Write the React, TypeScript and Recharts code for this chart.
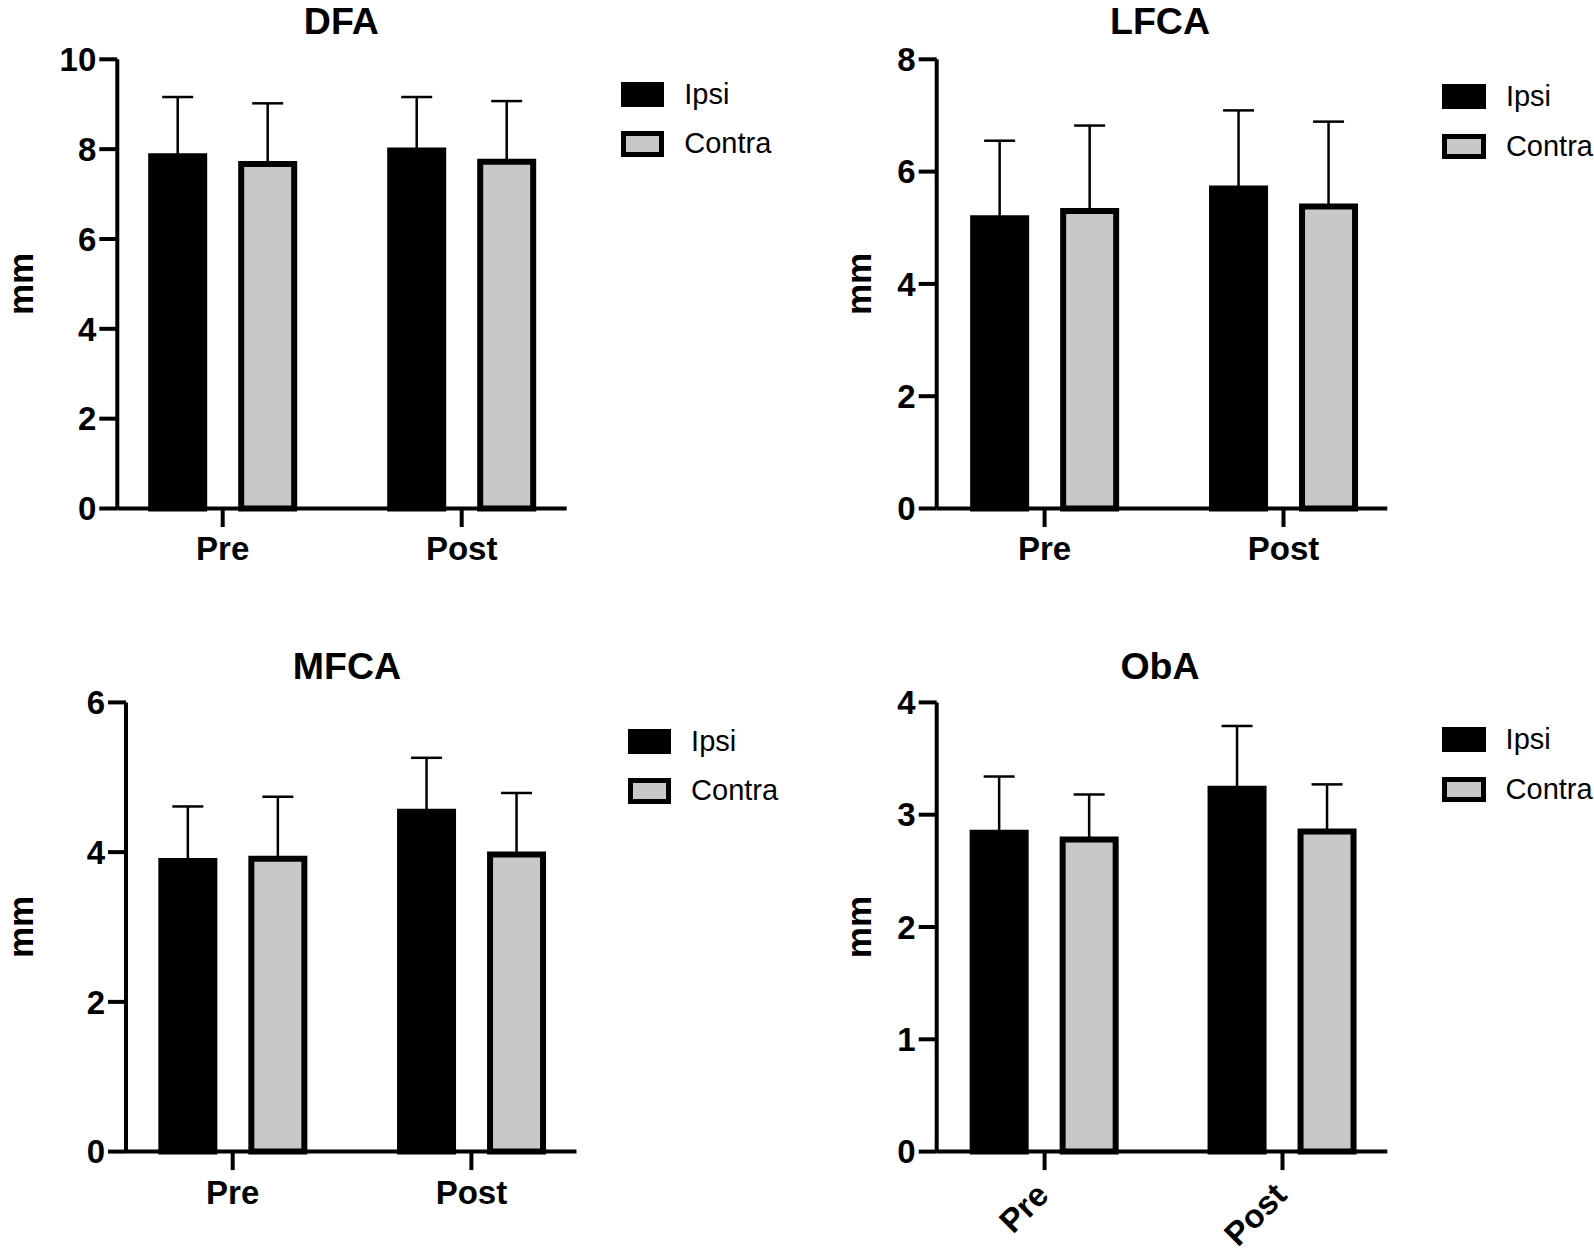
import React from "react";
import { BarChart, Bar, XAxis, YAxis, ErrorBar, Legend } from "recharts";

const FONT = '"Liberation Sans", Arial, Helvetica, sans-serif';

const CATEGORIES = ["Pre", "Post"];
const SERIES_NAMES = ["Ipsi", "Contra"];
const SERIES_FILLS = ["#000000", "#c8c8c8"];

// means and (upper) SD
const DFA_IPSI = [7.84, 7.97];
const DFA_IPSI_SD = [1.32, 1.19];
const DFA_CONTRA = [7.67, 7.72];
const DFA_CONTRA_SD = [1.35, 1.35];

const LFCA_IPSI = [5.17, 5.7];
const LFCA_IPSI_SD = [1.38, 1.39];
const LFCA_CONTRA = [5.3, 5.38];
const LFCA_CONTRA_SD = [1.52, 1.51];

const MFCA_IPSI = [3.88, 4.54];
const MFCA_IPSI_SD = [0.73, 0.72];
const MFCA_CONTRA = [3.91, 3.97];
const MFCA_CONTRA_SD = [0.83, 0.82];

const OBA_IPSI = [2.84, 3.23];
const OBA_IPSI_SD = [0.5, 0.56];
const OBA_CONTRA = [2.78, 2.85];
const OBA_CONTRA_SD = [0.4, 0.42];

const DFA_TICKS = [0, 2, 4, 6, 8, 10];
const LFCA_TICKS = [0, 2, 4, 6, 8];
const MFCA_TICKS = [0, 2, 4, 6];
const OBA_TICKS = [0, 1, 2, 3, 4];

const TITLE_SIZE = 37.5;

function buildRows(ipsi: number[], ipsiSd: number[], contra: number[], contraSd: number[]) {
  return CATEGORIES.map((name, i) => ({
    name,
    ipsi: ipsi[i],
    ipsiErr: [0, ipsiSd[i]],
    contra: contra[i],
    contraErr: [0, contraSd[i]],
  }));
}

function LegendBox() {
  return (
    <div style={{ fontFamily: FONT }}>
      {SERIES_NAMES.map((n, i) => (
        <div
          key={n}
          style={{
            display: "flex",
            alignItems: "center",
            height: 25.3,
            marginBottom: i === 0 ? 24.3 : 0,
            whiteSpace: "nowrap",
          }}
        >
          <div
            style={{
              width: 43.6,
              height: 25.3,
              boxSizing: "border-box",
              background: SERIES_FILLS[i],
              border: "5px solid #000",
            }}
          />
          <span style={{ marginLeft: 20, fontSize: 29, lineHeight: "25.3px", color: "#000" }}>{n}</span>
        </div>
      ))}
    </div>
  );
}

function RotatedTick(props: any) {
  const { x, y, payload } = props;
  return (
    <g transform={`translate(${x},${y})`}>
      <text
        x={6}
        y={17}
        textAnchor="end"
        transform="rotate(-45, 6, 17)"
        style={{ fontFamily: FONT, fontSize: 33, fontWeight: "bold", fill: "#000" }}
      >
        {payload.value}
      </text>
    </g>
  );
}

type PanelProps = {
  title: string;
  rows: any[];
  ticks: number[];
  box: [number, number, number, number];
  plot: { left: number; top: number; right: number; bottom: number; pre: number; post: number };
  titleAt: [number, number];
  legendAt: [number, number];
  labelBaseline: number;
  rotated?: boolean;
};

function Panel({ title, rows, ticks, box, plot, titleAt, legendAt, labelBaseline, rotated }: PanelProps) {
  const [bx, by, bw, bh] = box;
  const band = plot.post - plot.pre;
  const padLeft = plot.pre - plot.left - band / 2;
  const padRight = plot.right - plot.post - band / 2;
  const xAxisH = 100;
  const margin = {
    top: plot.top - by,
    right: bx + bw - plot.right,
    bottom: by + bh - plot.bottom - xAxisH,
    left: 0,
  };
  const tickStyle = { fontFamily: FONT, fontSize: 33, fontWeight: "bold", fill: "#000" };

  return (
    <div style={{ position: "absolute", left: bx, top: by, width: bw, height: bh }}>
      <div
        style={{
          position: "absolute",
          left: titleAt[0] - bx - 200,
          width: 400,
          top: titleAt[1] - by - 0.847 * TITLE_SIZE,
          textAlign: "center",
          fontFamily: FONT,
          fontSize: TITLE_SIZE,
          fontWeight: "bold",
          lineHeight: `${TITLE_SIZE}px`,
          color: "#000",
        }}
      >
        {title}
      </div>
      <BarChart width={bw} height={bh} data={rows} margin={margin} barSize={53} barGap={37}>
        <XAxis
          dataKey="name"
          height={xAxisH}
          padding={{ left: padLeft, right: padRight }}
          axisLine={{ stroke: "#000", strokeWidth: 4 }}
          tickLine={{ stroke: "#000", strokeWidth: 4 }}
          tickSize={18.5}
          tickMargin={10}
          interval={0}
          tick={rotated ? <RotatedTick /> : tickStyle}
        />
        <YAxis
          width={plot.left - bx}
          domain={[0, ticks[ticks.length - 1]]}
          ticks={ticks}
          interval={0}
          axisLine={{ stroke: "#000", strokeWidth: 4 }}
          tickLine={{ stroke: "#000", strokeWidth: 4 }}
          tickSize={18}
          tickMargin={3}
          tick={tickStyle}
          label={{
            value: "mm",
            angle: -90,
            position: "insideLeft",
            offset: labelBaseline - bx - 12.4,
            style: { textAnchor: "middle", fontFamily: FONT, fontSize: 35, fontWeight: "bold", fill: "#000" },
          }}
        />
        <Bar dataKey="ipsi" name="Ipsi" fill={SERIES_FILLS[0]} stroke="#000" strokeWidth={6} isAnimationActive={false}>
          <ErrorBar dataKey="ipsiErr" width={15.5} strokeWidth={2.5} stroke="#000" direction="y" isAnimationActive={false} />
        </Bar>
        <Bar dataKey="contra" name="Contra" fill={SERIES_FILLS[1]} stroke="#000" strokeWidth={6} isAnimationActive={false}>
          <ErrorBar dataKey="contraErr" width={15.5} strokeWidth={2.5} stroke="#000" direction="y" isAnimationActive={false} />
        </Bar>
        <Legend
          layout="vertical"
          align="center"
          verticalAlign="middle"
          content={() => <LegendBox />}
          wrapperStyle={{ left: legendAt[0] - bx, top: legendAt[1] - by, width: "auto", height: "auto", bottom: "auto", right: "auto" }}
        />
      </BarChart>
    </div>
  );
}

export default function App() {
  return (
    <div
      style={{
        position: "absolute",
        left: 0,
        top: 0,
        width: 1594,
        height: 1257,
        overflow: "hidden",
        background: "#fff",
        fontFamily: FONT,
      }}
    >
      <Panel
        title="DFA"
        rows={buildRows(DFA_IPSI, DFA_IPSI_SD, DFA_CONTRA, DFA_CONTRA_SD)}
        ticks={DFA_TICKS}
        box={[0, 0, 797, 628]}
        plot={{ left: 117.3, top: 59.3, right: 566.7, bottom: 508.5, pre: 222.7, post: 461.7 }}
        titleAt={[341.3, 34.5]}
        legendAt={[620.7, 81.7]}
        labelBaseline={33.3}
      />
      <Panel
        title="LFCA"
        rows={buildRows(LFCA_IPSI, LFCA_IPSI_SD, LFCA_CONTRA, LFCA_CONTRA_SD)}
        ticks={LFCA_TICKS}
        box={[797, 0, 797, 628]}
        plot={{ left: 936.7, top: 59.3, right: 1387.3, bottom: 508.5, pre: 1044.6, post: 1283.5 }}
        titleAt={[1160, 34.5]}
        legendAt={[1442.3, 84]}
        labelBaseline={871}
      />
      <Panel
        title="MFCA"
        rows={buildRows(MFCA_IPSI, MFCA_IPSI_SD, MFCA_CONTRA, MFCA_CONTRA_SD)}
        ticks={MFCA_TICKS}
        box={[0, 628, 797, 629]}
        plot={{ left: 126, top: 702.4, right: 576.5, bottom: 1151.6, pre: 232.7, post: 471.4 }}
        titleAt={[347, 680]}
        legendAt={[627.5, 728.8]}
        labelBaseline={33}
      />
      <Panel
        title="ObA"
        rows={buildRows(OBA_IPSI, OBA_IPSI_SD, OBA_CONTRA, OBA_CONTRA_SD)}
        ticks={OBA_TICKS}
        box={[797, 628, 797, 629]}
        plot={{ left: 936.7, top: 702.4, right: 1387.3, bottom: 1151.6, pre: 1044.6, post: 1282.5 }}
        titleAt={[1160, 680]}
        legendAt={[1442, 727]}
        labelBaseline={871}
        rotated
      />
    </div>
  );
}
